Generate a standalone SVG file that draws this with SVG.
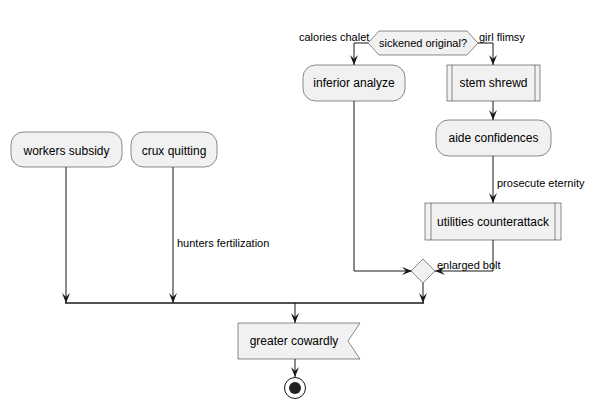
<svg xmlns="http://www.w3.org/2000/svg" width="596" height="410" viewBox="0 0 596 410">
<style>
.n{fill:#F1F1F1;stroke:#181818;stroke-width:0.5}
.t{font-family:"Liberation Sans",Arial,sans-serif;font-size:12px;fill:#000}
.s{font-family:"Liberation Sans",Arial,sans-serif;font-size:11px;fill:#000}
.e{fill:none;stroke:#181818;stroke-width:1}
</style>
<defs>
<marker id="ah" viewBox="0 0 10 8" refX="10" refY="4" markerWidth="10" markerHeight="8" orient="auto" markerUnits="userSpaceOnUse">
<path d="M0,0 L10,4 L0,8 L4,4 Z" fill="#181818"/>
</marker>
</defs>
<rect width="596" height="410" fill="#FFFFFF"/>
<g id="connectors">
<path class="e" d="M368,43 H354 V65" marker-end="url(#ah)"/>
<path class="e" d="M478,43 H493 V65" marker-end="url(#ah)"/>
<path class="e" d="M493,101 V120" marker-end="url(#ah)"/>
<path class="e" d="M493,156 V203" marker-end="url(#ah)"/>
<path class="e" d="M354,101 V271 H412" marker-end="url(#ah)"/>
<path class="e" d="M493,240 V271 H435" marker-end="url(#ah)"/>
<path class="e" d="M423,283 V303" marker-end="url(#ah)"/>
<path class="e" d="M66,167 V303" marker-end="url(#ah)"/>
<path class="e" d="M173,167 V303" marker-end="url(#ah)"/>
<path d="M65,303 H424" fill="none" stroke="#181818" stroke-width="1.5"/>
<path class="e" d="M295,303 V323" marker-end="url(#ah)"/>
<path class="e" d="M295,359 V377" marker-end="url(#ah)"/>
<text class="s" x="299" y="41">calories chalet</text>
<text class="s" x="479" y="41">girl flimsy</text>
<text class="s" x="497" y="187">prosecute eternity</text>
<text class="s" x="437" y="269">enlarged bolt</text>
<text class="s" x="177" y="247">hunters fertilization</text>
</g>
<g id="decision">
<polygon class="n" points="368,43 379,31 467,31 478,43 467,55 379,55"/>
<text class="s" x="423" y="47" text-anchor="middle">sickened original?</text>
</g>
<g id="inferior-analyze">
<rect class="n" x="303" y="65" width="102" height="36" rx="12.5"/>
<text class="t" x="354" y="87" text-anchor="middle">inferior analyze</text>
</g>
<g id="stem-shrewd">
<rect class="n" x="447" y="65" width="93" height="36"/>
<line class="n" x1="452" y1="65" x2="452" y2="101"/>
<line class="n" x1="535" y1="65" x2="535" y2="101"/>
<text class="t" x="493.5" y="87" text-anchor="middle">stem shrewd</text>
</g>
<g id="aide-confidences">
<rect class="n" x="436" y="120" width="115" height="36" rx="12.5"/>
<text class="t" x="493.5" y="142" text-anchor="middle">aide confidences</text>
</g>
<g id="utilities-counterattack">
<rect class="n" x="425" y="203" width="136" height="37"/>
<line class="n" x1="431" y1="203" x2="431" y2="240"/>
<line class="n" x1="555" y1="203" x2="555" y2="240"/>
<text class="t" x="493" y="226" text-anchor="middle">utilities counterattack</text>
</g>
<g id="merge">
<polygon class="n" points="423,259 435,271 423,283 411,271"/>
</g>
<g id="workers-subsidy">
<rect class="n" x="11" y="132" width="111" height="35" rx="12.5"/>
<text class="t" x="66.5" y="155" text-anchor="middle">workers subsidy</text>
</g>
<g id="crux-quitting">
<rect class="n" x="131" y="132" width="86" height="35" rx="12.5"/>
<text class="t" x="174" y="155" text-anchor="middle">crux quitting</text>
</g>
<g id="greater-cowardly">
<polygon class="n" points="238,323 360,323 348,341 360,359 238,359"/>
<text class="t" x="294" y="345" text-anchor="middle">greater cowardly</text>
</g>
<g id="end">
<circle cx="295" cy="388" r="10.5" fill="none" stroke="#181818" stroke-width="1"/>
<circle cx="295" cy="388" r="6" fill="#222222"/>
</g>
</svg>
